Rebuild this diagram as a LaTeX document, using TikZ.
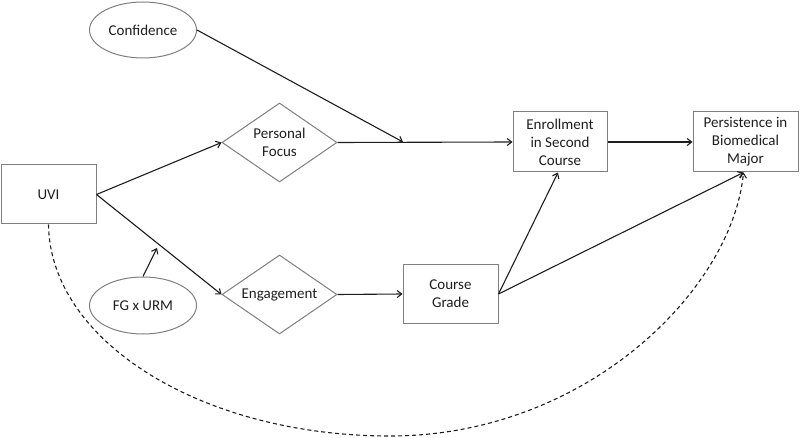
\documentclass[tikz,border=0pt]{standalone}
\usepackage{fontspec}
\setmainfont{Carlito}
\usetikzlibrary{shapes.geometric,arrows.meta}
\definecolor{edgegray}{HTML}{7F7F7F}
\definecolor{ink}{HTML}{1E1E1E}
\begin{document}
\begin{tikzpicture}[x=1pt,y=-1pt,
  every node/.style={font=\fontsize{15}{18}\selectfont, text=ink, align=center},
  boxnode/.style={draw=edgegray, line width=1pt, rectangle, inner sep=0pt},
  ovalnode/.style={draw=edgegray, line width=1pt, ellipse, minimum width=107pt, minimum height=56pt, inner sep=0pt},
  dianode/.style={draw=edgegray, line width=1pt, diamond, aspect=1.456, minimum width=115pt, minimum height=79pt, inner sep=0pt},
  link/.style={draw=ink, line width=1.1pt, -{Straight Barb[length=4.5pt,width=7pt]}},
  dashlink/.style={link, dashed, dash pattern=on 4pt off 3pt}]
\useasboundingbox (0,0) rectangle (800,438);

\node[ovalnode] (conf) at (143,30) {Confidence};
\node[dianode] (pf) at (279.5,142.5) {Personal\\Focus};
\node[boxnode, minimum width=95pt, minimum height=59pt] (uvi) at (48.5,194.5) {UVI};
\node[ovalnode, minimum height=57pt] (fg) at (143,305.5) {FG x URM};
\node[dianode] (eng) at (279.5,294.5) {Engagement};
\node[boxnode, minimum width=95pt, minimum height=58pt] (cg) at (450.5,294) {Course\\Grade};
\node[boxnode, minimum width=94pt, minimum height=60pt] (enr) at (560,142) {Enrollment\\in Second\\Course};
\node[boxnode, minimum width=105pt, minimum height=60pt] (per) at (745.5,142) {Persistence in\\Biomedical\\Major};

\coordinate (join) at (403,142);
\coordinate (mod) at (157,248);
\coordinate (bottom) at (390,436);

\draw[link] (conf.east) -- (join);
\draw[link] (pf.east) -- (enr.west);
\draw[link] (enr.east) -- (per.west);
\draw[link] (uvi.east) -- (pf.west);
\draw[link] (uvi.east) -- (eng.west);
\draw[link] (fg.north) -- (mod);
\draw[link] (eng.east) -- (cg.west);
\draw[link] (cg.east) -- ([xshift=-2pt]enr.south);
\draw[link] (cg.east) -- ([xshift=-2pt]per.south);
\draw[dashlink] (uvi.south) .. controls (50,341) and (201,436) .. (bottom)
  .. controls (586,436) and (732,290) .. ([xshift=-2pt]per.south);
\end{tikzpicture}
\end{document}
